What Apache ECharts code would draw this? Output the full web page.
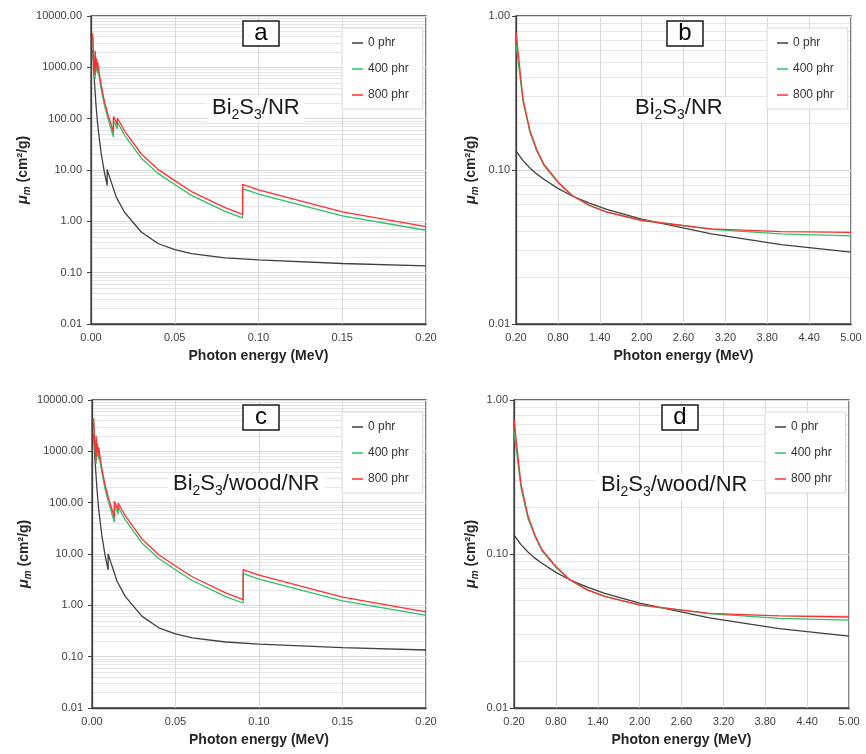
<!DOCTYPE html>
<html>
<head>
<meta charset="utf-8">
<title>Mass attenuation coefficient</title>
<script src="https://cdn.jsdelivr.net/npm/echarts@6.0.0/dist/echarts.min.js"></script>
<style>
  html, body { margin: 0; padding: 0; background: #fff; }
  #chart { width: 866px; height: 754px; }
</style>
</head>
<body>
<div id="chart"></div>
<script>
// photon energy (MeV); absorption edges are listed twice
const energyLow0 = [0.001, 0.0015, 0.002, 0.003, 0.004, 0.005, 0.006, 0.008, 0.00966, 0.00966, 0.01, 0.015, 0.02, 0.03, 0.04, 0.05, 0.06, 0.08, 0.1, 0.15, 0.2]
const energyLowBi = [0.001, 0.0015, 0.00247, 0.00247, 0.003, 0.0032, 0.0032, 0.004, 0.004, 0.005, 0.006, 0.008, 0.01, 0.0134, 0.0134, 0.0157, 0.0157, 0.0164, 0.0164, 0.02, 0.03, 0.04, 0.05, 0.06, 0.08, 0.0905, 0.0905, 0.1, 0.15, 0.2]
const energyHigh = [0.2, 0.3, 0.4, 0.5, 0.6, 0.8, 1.0, 1.25, 1.5, 2.0, 3.0, 4.0, 5.0]

// panel a : Bi2S3/NR, low energy
const muA0 = [2200, 1050, 560, 180, 76, 40, 22, 9.0, 5.0, 10.3, 9.4, 3.0, 1.5, 0.62, 0.37, 0.28, 0.235, 0.195, 0.177, 0.151, 0.136]
const muA400 = [3800, 1500, 600, 1750, 950, 830, 1250, 750, 1030, 620, 390, 182, 104, 44, 92, 63, 86, 79, 84, 48, 17, 8.6, 5.2, 3.2, 1.56, 1.17, 4.35, 3.4, 1.28, 0.67]
const muA800 = [4600, 1800, 700, 2100, 1150, 1000, 1500, 900, 1250, 750, 470, 220, 125, 55, 112, 76, 103, 94, 100, 58, 20.5, 10.3, 6.2, 3.8, 1.85, 1.37, 5.25, 4.1, 1.53, 0.785]

// panel b : Bi2S3/NR, high energy
const muB0 = [0.133, 0.115, 0.103, 0.094, 0.087, 0.076, 0.068, 0.061, 0.0555, 0.048, 0.0385, 0.0328, 0.0293]
const muB400 = [0.665, 0.28, 0.175, 0.132, 0.107, 0.083, 0.0685, 0.059, 0.0535, 0.0472, 0.0412, 0.0385, 0.0374]
const muB800 = [0.785, 0.29, 0.18, 0.135, 0.109, 0.084, 0.0685, 0.0588, 0.0532, 0.047, 0.0415, 0.0398, 0.0393]

// panel c : Bi2S3/wood/NR, low energy
const muC0 = [2150, 1030, 550, 178, 75, 39.5, 21.7, 8.9, 4.9, 10.1, 9.2, 2.95, 1.48, 0.61, 0.365, 0.277, 0.232, 0.193, 0.176, 0.15, 0.135]
const muC400 = [3600, 1420, 570, 1660, 900, 790, 1190, 710, 980, 590, 370, 173, 99, 42, 87, 60, 82, 75, 80, 46, 16.2, 8.2, 4.95, 3.05, 1.48, 1.11, 4.15, 3.25, 1.22, 0.64]
const muC800 = [4400, 1700, 660, 2000, 1090, 950, 1420, 850, 1190, 710, 445, 210, 118, 52, 106, 72, 98, 89, 95, 55, 19.4, 9.7, 5.85, 3.6, 1.75, 1.29, 4.97, 3.88, 1.45, 0.745]

// panel d : Bi2S3/wood/NR, high energy
const muD0 = [0.133, 0.115, 0.103, 0.094, 0.087, 0.076, 0.068, 0.061, 0.0555, 0.048, 0.0385, 0.0328, 0.0293]
const muD400 = [0.63, 0.27, 0.17, 0.13, 0.105, 0.082, 0.0678, 0.0585, 0.053, 0.0466, 0.041, 0.0382, 0.0372]
const muD800 = [0.745, 0.285, 0.177, 0.133, 0.107, 0.083, 0.068, 0.0585, 0.053, 0.0468, 0.0412, 0.0396, 0.039]

// y tick values (decades)
const decadesLow = [0.01, 0.1, 1, 10, 100, 1000, 10000]
const decadesHigh = [0.01, 0.1, 1]

const seriesNames = ['0 phr', '400 phr', '800 phr']
const seriesColors = ['#404040', '#2fbf6a', '#ff3030']
const panelLetters = ['a', 'b', 'c', 'd']
const panelLabels = ['{n|Bi}{s|2}{n|S}{s|3}{n|/NR}', '{n|Bi}{s|2}{n|S}{s|3}{n|/NR}', '{n|Bi}{s|2}{n|S}{s|3}{n|/wood/NR}', '{n|Bi}{s|2}{n|S}{s|3}{n|/wood/NR}']

const font = 'Liberation Sans, Arial, sans-serif'

const panels = [
  { grid: { left: 91, top: 16, width: 335, height: 308 }, x: [0, 0.2, 0.05], y: decadesLow, nameGap: 56, labelMargin: 9,
    curves: [[energyLow0, muA0], [energyLowBi, muA400], [energyLowBi, muA800]],
    letter: [243, 16], label: [207, 94], legend: [342, 28] },
  { grid: { left: 516, top: 16, width: 335, height: 308 }, x: [0.2, 5.0, 0.6], y: decadesHigh, nameGap: 36, labelMargin: 6,
    curves: [[energyHigh, muB0], [energyHigh, muB400], [energyHigh, muB800]],
    letter: [667, 16], label: [630, 94], legend: [767, 28] },
  { grid: { left: 92, top: 400, width: 334, height: 308 }, x: [0, 0.2, 0.05], y: decadesLow, nameGap: 56, labelMargin: 9,
    curves: [[energyLow0, muC0], [energyLowBi, muC400], [energyLowBi, muC800]],
    letter: [243, 400], label: [168, 470], legend: [342, 412] },
  { grid: { left: 514, top: 400, width: 335, height: 308 }, x: [0.2, 5.0, 0.6], y: decadesHigh, nameGap: 34, labelMargin: 6,
    curves: [[energyHigh, muD0], [energyHigh, muD400], [energyHigh, muD800]],
    letter: [662, 400], label: [596, 471], legend: [765, 412] }
]

// 2..9 of every decade, for the light minor grid
function minorValues(decades) {
  var out = []
  decades.slice(0, -1).forEach(function (d) {
    for (var k = 2; k <= 9; k++) out.push(+(d * k).toPrecision(3))
  })
  return out
}

function zip(xs, ys) {
  return xs.map((e, i) => [e, ys[i]])
}

var grids = [], xAxes = [], yAxes = [], series = [], titles = [], legends = []

panels.forEach(function (p, i) {
  grids.push(Object.assign({ show: true, z: 2, borderColor: '#404040', borderWidth: 1.3, containLabel: false }, p.grid))

  xAxes.push({
    gridIndex: i, type: 'value', min: p.x[0], max: p.x[1], interval: p.x[2], z: 2,
    name: 'Photon energy (MeV)', nameLocation: 'middle', nameGap: 25,
    nameTextStyle: { fontFamily: font, fontWeight: 'bold', fontSize: 14, color: '#262626' },
    axisLine: { lineStyle: { color: '#404040', width: 1.3 } },
    axisTick: { show: false },
    axisLabel: { fontFamily: font, fontSize: 11, color: '#404040', margin: 8, formatter: v => v.toFixed(2) },
    splitLine: { show: true, lineStyle: { color: '#d9d9d9', width: 1 } }
  })

  yAxes.push({
    gridIndex: i, type: 'log', logBase: 10, min: p.y[0], max: p.y[p.y.length - 1], z: 2,
    name: '{mu|μ}{sub|m}{n| (cm²/g)}', nameLocation: 'middle', nameGap: p.nameGap,
    nameTextStyle: {
      fontFamily: font, fontWeight: 'bold', fontSize: 14, color: '#262626',
      rich: {
        mu: { fontFamily: font, fontStyle: 'italic', fontWeight: 'bold', fontSize: 15, lineHeight: 18, color: '#262626' },
        sub: { fontFamily: font, fontStyle: 'italic', fontWeight: 'bold', fontSize: 10, lineHeight: 10, verticalAlign: 'bottom', color: '#262626' },
        n: { fontFamily: font, fontWeight: 'bold', fontSize: 14, lineHeight: 18, color: '#262626' }
      }
    },
    axisLine: { lineStyle: { color: '#404040', width: 1.3 } },
    axisTick: { show: true, inside: false, length: 4, customValues: p.y, lineStyle: { color: '#404040' } },
    minorTick: { show: false },
    axisLabel: { fontFamily: font, fontSize: 11, color: '#404040', margin: p.labelMargin, showMinLabel: true, showMaxLabel: true, formatter: v => v.toFixed(2) },
    splitLine: { show: true, lineStyle: { color: '#d9d9d9', width: 1 } }
  })

  // minor horizontal grid drawn as mark lines on an empty helper series
  series.push({
    type: 'line', xAxisIndex: i, yAxisIndex: i, data: [], silent: true, z: 1,
    markLine: {
      silent: true, symbol: ['none', 'none'], animation: false, z: 1,
      label: { show: false },
      lineStyle: { color: '#e6e6e6', width: 1, type: 'solid' },
      data: minorValues(p.y).map(v => ({ yAxis: v }))
    }
  })

  p.curves.forEach(function (c, k) {
    series.push({
      name: seriesNames[k], type: 'line', xAxisIndex: i, yAxisIndex: i,
      data: zip(c[0], c[1]), symbol: 'none', showSymbol: false, smooth: false,
      silent: true, animation: false, z: 3 + k,
      lineStyle: { color: seriesColors[k], width: 1.3 },
      itemStyle: { color: seriesColors[k] }
    })
  })

  titles.push({
    text: '{l|' + panelLetters[i] + '}', left: p.letter[0], top: p.letter[1], z: 8,
    padding: [1, 11, 1, 11], backgroundColor: '#fff', borderColor: '#1a1a1a', borderWidth: 1.5,
    textStyle: { fontWeight: 'normal', rich: { l: { fontFamily: font, fontWeight: 'normal', fontSize: 24, lineHeight: 33, width: 14, align: 'center', color: '#000' } } }
  })
  titles.push({
    text: panelLabels[i], left: p.label[0], top: p.label[1], z: 8,
    padding: [0, 5, 0, 5], backgroundColor: '#fff',
    textStyle: {
      fontWeight: 'normal',
      rich: {
        n: { fontFamily: font, fontWeight: 'normal', fontSize: 22, lineHeight: 28, color: '#1a1a1a' },
        s: { fontFamily: font, fontWeight: 'normal', fontSize: 14, lineHeight: 12, verticalAlign: 'bottom', color: '#1a1a1a' }
      }
    }
  })

  legends.push({
    data: seriesNames.map((n, k) => ({ name: n, icon: 'rect', itemStyle: { color: seriesColors[k] } })),
    orient: 'vertical', left: p.legend[0], top: p.legend[1], z: 8,
    itemWidth: 11, itemHeight: 1.5, itemGap: 12, selectedMode: false,
    padding: [8, 14, 7, 10], backgroundColor: '#fff', borderColor: '#d9d9d9', borderWidth: 1,
    textStyle: { fontFamily: font, fontSize: 12, color: '#333', lineHeight: 14 }
  })
})

var chart = echarts.init(document.getElementById('chart'), null, { renderer: 'canvas' })
chart.setOption({
  backgroundColor: '#ffffff',
  animation: false,
  grid: grids,
  xAxis: xAxes,
  yAxis: yAxes,
  title: titles,
  legend: legends,
  series: series
})
</script>
</body>
</html>
